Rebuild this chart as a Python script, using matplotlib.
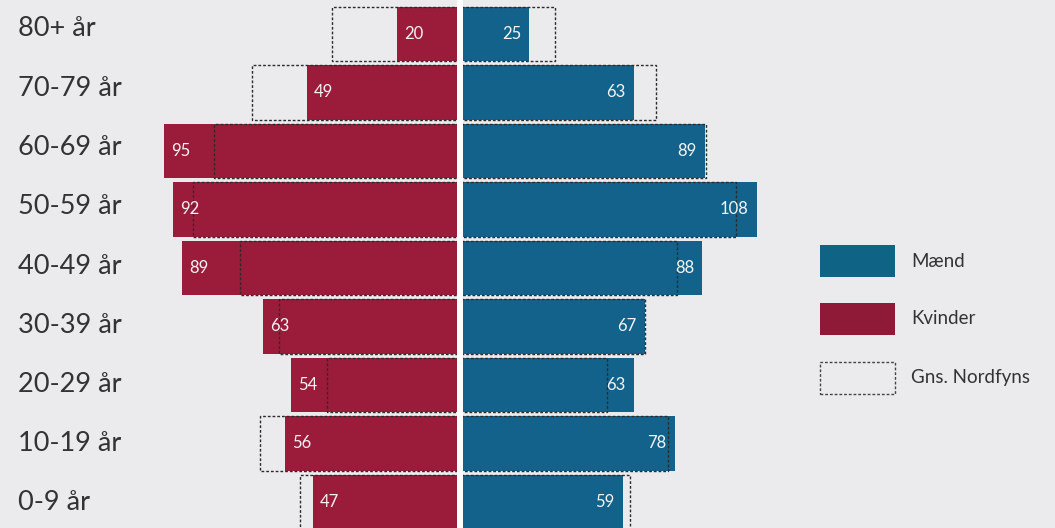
import matplotlib.pyplot as plt
from matplotlib.patches import Rectangle

# data
age_groups = ["80+ år", "70-79 år", "60-69 år", "50-59 år", "40-49 år",
              "30-39 år", "20-29 år", "10-19 år", "0-9 år"]
kvinder = [20, 49, 95, 92, 89, 63, 54, 56, 47]
maend = [25, 63, 89, 108, 88, 67, 63, 78, 59]
# Gns. Nordfyns (scaled to same bars)
gns_kvinder = [40.8, 66.6, 79.0, 85.5, 70.5, 58.0, 42.5, 64.1, 51.3]
gns_maend = [34.3, 71.2, 89.2, 100.1, 78.9, 67.1, 53.3, 75.4, 61.8]

BG = "#EBEBED"
RED = "#9B1B3A"
BLUE = "#13628C"
TXT = "#333333"
FONT = "Lato"

W, H = 1055, 528
fig = plt.figure(figsize=(W / 100, H / 100), dpi=100)
fig.patch.set_facecolor(BG)
plt.rcParams["font.family"] = [FONT, "DejaVu Sans"]

# women axis: zero at px 459, 3.107 px per unit
ax_w = fig.add_axes([0, 0, 459 / W, 1])
ax_w.set_xlim(-459 / 3.107, 0)
# men axis: zero at px 460.6, 2.747 px per unit
ax_m = fig.add_axes([460.6 / W, 0, (W - 460.6) / W, 1])
ax_m.set_xlim(0, (W - 460.6) / 2.747)

ypos = list(range(len(age_groups)))
for ax in (ax_w, ax_m):
    ax.set_facecolor("none")
    ax.set_ylim((H - 34) / 58.5, -34 / 58.5)
    ax.axis("off")

ax_w.barh(ypos, [-v for v in kvinder], height=0.925, color=RED, edgecolor="none")
ax_m.barh(ypos, maend, height=0.925, color=BLUE, edgecolor="none")

ax_w.barh(ypos, [-v for v in gns_kvinder], height=0.935, fill=False,
          edgecolor="#2b2b2b", linewidth=1.0, linestyle=(0, (2, 1.4)), zorder=3)
ax_m.barh(ypos, gns_maend, height=0.935, fill=False,
          edgecolor="#2b2b2b", linewidth=1.0, linestyle=(0, (2, 1.4)), zorder=3)

for y, v in zip(ypos, kvinder):
    ax_w.annotate(str(v), (-v, y), xytext=(5, 0), textcoords="offset points",
                  ha="left", va="center", color="#F4F4F4", fontsize=12, zorder=4)
for y, v in zip(ypos, maend):
    ax_m.annotate(str(v), (v, y), xytext=(-6, 0), textcoords="offset points",
                  ha="right", va="center", color="#F4F4F4", fontsize=12, zorder=4)

# white center strip
fig.add_artist(Rectangle((457 / W, 0), 6 / W, 1, transform=fig.transFigure,
                         facecolor="white", edgecolor="none", zorder=5))

# age labels
for i, lab in enumerate(age_groups):
    fig.text(18 / W, 1 - (29 + 59.25 * i) / H, lab, ha="left", va="center",
             fontsize=19.5, color=TXT)

# legend
legend_items = [("Mænd", dict(facecolor="#0F6385", edgecolor="none"), 245, 32),
                ("Kvinder", dict(facecolor="#8F1A38", edgecolor="none"), 303, 32),
                ("Gns. Nordfyns", dict(facecolor="none", edgecolor="#444444",
                                       linewidth=1.0, linestyle=(0, (2, 1.4))), 362, 32)]
for lab, style, top, hgt in legend_items:
    fig.add_artist(Rectangle((820 / W, 1 - (top + hgt) / H), 75 / W, hgt / H,
                             transform=fig.transFigure, **style))
    fig.text(911 / W, 1 - (top + hgt / 2) / H, lab, ha="left", va="center",
             fontsize=13.5, color=TXT)

plt.savefig("out.png", dpi=100, facecolor=BG)
